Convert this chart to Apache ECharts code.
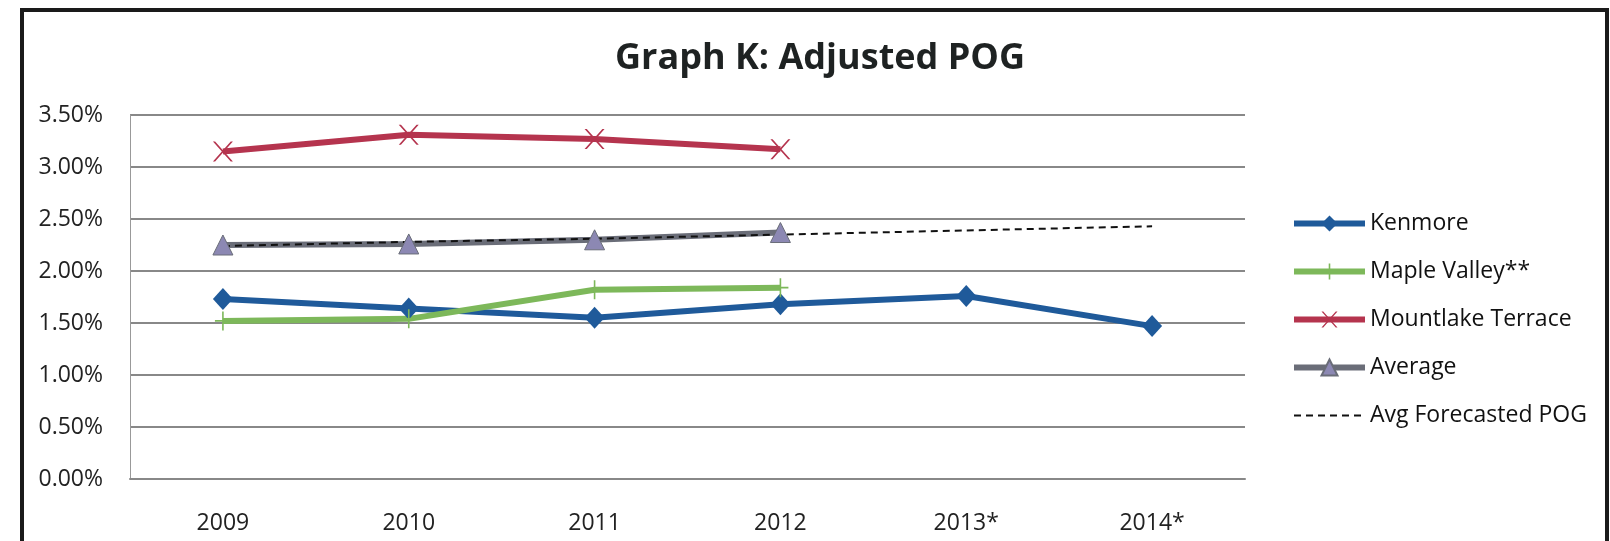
<!DOCTYPE html>
<html>
<head>
<meta charset="utf-8">
<script src="https://cdn.jsdelivr.net/npm/echarts@6/dist/echarts.min.js"></script>
<style>
  html, body { margin: 0; padding: 0; background: #fff; }
  #chart { width: 1610px; height: 541px; }
</style>
</head>
<body>
<div id="chart"></div>
<script>
const years = ["2009", "2010", "2011", "2012", "2013*", "2014*"];
const kenmore = [1.73, 1.64, 1.55, 1.68, 1.76, 1.47];
const mapleValley = [1.52, 1.54, 1.82, 1.84, null, null];
const mountlakeTerrace = [3.15, 3.31, 3.27, 3.17, null, null];
const average = [2.25, 2.26, 2.30, 2.37, null, null];
const avgForecast = [2.24, 2.28, 2.31, 2.35, 2.39, 2.43];
const yTicks = { min: 0, max: 3.5, interval: 0.5 };

const FONT = "Open Sans";
const plusPath = "path://M9,0h2v20h-2z M0,9h20v2h-20z";
const crossPath = "path://M0,0L2.2,0L20,20L17.8,20Z M17.8,0L20,0L2.2,20L0,20Z";

const chart = echarts.init(document.getElementById("chart"));
chart.setOption({
  backgroundColor: "#fff",
  animation: false,
  title: {
    text: "Graph K: Adjusted POG",
    left: 815,
    textAlign: "center",
    top: 36,
    textStyle: { fontFamily: FONT, fontWeight: "bold", fontSize: 36, color: "#1e2222" },
  },
  graphic: [
    {
      type: "rect",
      shape: { x: 22, y: 10, width: 1585, height: 600 },
      style: { fill: "none", stroke: "#1a1a1a", lineWidth: 4 },
      silent: true,
    },
  ],
  legend: {
    orient: "vertical",
    left: 1286,
    top: 207,
    itemWidth: 71,
    itemHeight: 20,
    itemGap: 25,
    lineStyle: { width: 6 },
    textStyle: { fontFamily: FONT, fontSize: 23, color: "#111" },
    data: [
      "Kenmore",
      "Maple Valley**",
      "Mountlake Terrace",
      "Average",
      { name: "Avg Forecasted POG", lineStyle: { width: 2 } },
    ],
  },
  grid: { left: 130, right: 365, top: 115, bottom: 62 },
  xAxis: {
    type: "category",
    data: years,
    axisLine: { lineStyle: { color: "#888", width: 2 } },
    axisTick: { show: false },
    axisLabel: { fontFamily: FONT, fontSize: 23, color: "#222", margin: 33 },
  },
  yAxis: {
    type: "value",
    min: yTicks.min,
    max: yTicks.max,
    interval: yTicks.interval,
    axisLine: { show: true, lineStyle: { color: "#999", width: 1 } },
    axisTick: { show: false },
    splitLine: { lineStyle: { color: "#888", width: 2 } },
    axisLabel: {
      fontFamily: FONT,
      fontSize: 23,
      color: "#222",
      margin: 27,
      formatter: (v) => v.toFixed(2) + "%",
    },
  },
  series: [
    {
      name: "Kenmore",
      type: "line",
      data: kenmore,
      symbol: "diamond",
      symbolSize: [20, 22],
      lineStyle: { color: "#1f5a9a", width: 6 },
      itemStyle: { color: "#1f5a9a" },
    },
    {
      name: "Maple Valley**",
      type: "line",
      data: mapleValley,
      symbol: plusPath,
      symbolSize: [16, 19],
      lineStyle: { color: "#7db85a", width: 6 },
      itemStyle: { color: "#7db85a" },
    },
    {
      name: "Mountlake Terrace",
      type: "line",
      data: mountlakeTerrace,
      symbol: crossPath,
      symbolSize: [20, 20],
      lineStyle: { color: "#b5344e", width: 6 },
      itemStyle: { color: "#b5344e" },
    },
    {
      name: "Average",
      type: "line",
      data: average,
      symbol: "triangle",
      symbolSize: [20, 20],
      lineStyle: { color: "#6a6d78", width: 6 },
      itemStyle: { color: "#8c88b3", borderColor: "#6a6d78", borderWidth: 1 },
    },
    {
      name: "Avg Forecasted POG",
      type: "line",
      data: avgForecast,
      showSymbol: false,
      symbol: "rect",
      lineStyle: { color: "#111", width: 2, type: [7, 5] },
      itemStyle: { color: "rgba(0,0,0,0)" },
      z: 3,
    },
  ],
});
</script>
</body>
</html>
